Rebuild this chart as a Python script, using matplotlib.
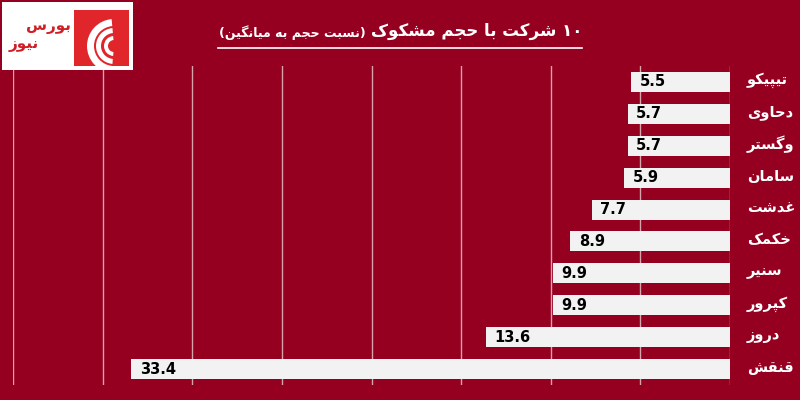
import re
import matplotlib
matplotlib.use("Agg")
import matplotlib.pyplot as plt
from matplotlib.patches import Rectangle, Wedge

# data
companies = ["تیپیکو", "دحاوی", "وگستر", "سامان", "غدشت",
             "خکمک", "سنیر", "کپرور", "دروز", "قنقش"]
ratios = [5.5, 5.7, 5.7, 5.9, 7.7, 8.9, 9.9, 9.9, 13.6, 33.4]
title_main = "۱۰ شرکت با حجم مشکوک"
title_sub = "(نسبت حجم به میانگین)"
logo_words = ["بورس", "نیوز"]

bg_color = "#950020"
bar_color = "#F2F2F2"
grid_color = "#D9A3AC"
logo_red = "#E0252B"

# minimal Persian shaping (matplotlib has no complex text layout)
FORMS = {
    'ا': ('\uFE8D', '\uFE8E', None, None),
    'ب': ('\uFE8F', '\uFE90', '\uFE91', '\uFE92'),
    'پ': ('\uFB56', '\uFB57', '\uFB58', '\uFB59'),
    'ت': ('\uFE95', '\uFE96', '\uFE97', '\uFE98'),
    'ج': ('\uFE9D', '\uFE9E', '\uFE9F', '\uFEA0'),
    'ح': ('\uFEA1', '\uFEA2', '\uFEA3', '\uFEA4'),
    'خ': ('\uFEA5', '\uFEA6', '\uFEA7', '\uFEA8'),
    'د': ('\uFEA9', '\uFEAA', None, None),
    'ر': ('\uFEAD', '\uFEAE', None, None),
    'ز': ('\uFEAF', '\uFEB0', None, None),
    'س': ('\uFEB1', '\uFEB2', '\uFEB3', '\uFEB4'),
    'ش': ('\uFEB5', '\uFEB6', '\uFEB7', '\uFEB8'),
    'غ': ('\uFECD', '\uFECE', '\uFECF', '\uFED0'),
    'ق': ('\uFED5', '\uFED6', '\uFED7', '\uFED8'),
    'ک': ('\uFB8E', '\uFB8F', '\uFB90', '\uFB91'),
    'گ': ('\uFB92', '\uFB93', '\uFB94', '\uFB95'),
    'م': ('\uFEE1', '\uFEE2', '\uFEE3', '\uFEE4'),
    'ن': ('\uFEE5', '\uFEE6', '\uFEE7', '\uFEE8'),
    'ه': ('\uFEE9', '\uFEEA', '\uFEEB', '\uFEEC'),
    'و': ('\uFEED', '\uFEEE', None, None),
    'ی': ('\uFBFC', '\uFBFD', '\uFBFE', '\uFBFF'),
}


def fa(s):
    out = []
    for i, c in enumerate(s):
        if c not in FORMS:
            out.append(c)
            continue
        prev = s[i - 1] if i > 0 else None
        nxt = s[i + 1] if i + 1 < len(s) else None
        jp = prev in FORMS and FORMS[prev][2] is not None
        jn = nxt in FORMS and FORMS[c][2] is not None
        iso, fin, ini, med = FORMS[c]
        if jp and jn:
            out.append(med)
        elif jp:
            out.append(fin)
        elif jn:
            out.append(ini)
        else:
            out.append(iso)
    vis = ''.join(out)[::-1]
    vis = vis.translate(str.maketrans("()", ")("))
    vis = re.sub(r'[0-9\u06F0-\u06F9.]+', lambda m: m.group(0)[::-1], vis)
    return vis


def px(x, y):
    return x / 800, 1 - y / 400


fig = plt.figure(figsize=(8, 4), dpi=100, facecolor=bg_color)

# plot area in pixels: x 13..730, y 66..385
ax = fig.add_axes([13 / 800, 15 / 400, 717 / 800, 319 / 400])
ax.set_facecolor(bg_color)
ypos = list(range(len(companies)))
ax.barh(ypos, ratios, height=0.63, color=bar_color, zorder=3)
ax.set_xlim(40, 0)
ax.set_ylim(len(companies) - 0.5, -0.5)
ax.set_xticks(range(0, 45, 5))
ax.grid(axis='x', color=grid_color, linewidth=1, zorder=1)
ax.tick_params(length=0, labelbottom=False, labelleft=False)
for s in ax.spines.values():
    s.set_visible(False)

for y, v, name in zip(ypos, ratios, companies):
    ax.annotate(f"{v}", (v, y), xytext=(6, 0), textcoords='offset points',
                ha='left', va='center', fontsize=10.5, fontweight='bold',
                color='black', zorder=4)
    ax.annotate(fa(name), (0, y), xytext=(12, 1), textcoords='offset points',
                ha='left', va='center', fontsize=10.5, fontweight='bold',
                color='white', annotation_clip=False)

# title: main part right, smaller note in brackets to its left
t_main = fig.text(*px(582, 31), fa(title_main), ha='right', va='center',
                  fontsize=12, fontweight='bold', color='white')
fig.canvas.draw()
bb = t_main.get_window_extent()
fig.text((bb.x0 - 5) / 800, 1 - 33 / 400, fa(title_sub), ha='right',
         va='center', fontsize=9, fontweight='bold', color='white')
fig.add_artist(plt.Line2D([218 / 800, 582 / 800], [1 - 47.5 / 400] * 2,
                          color='white', linewidth=1.2))

# logo: white box, red square with white arcs, red wordmark
box_ax = fig.add_axes([2 / 800, 1 - 70 / 400, 131 / 800, 68 / 400])
box_ax.set_xlim(0, 131)
box_ax.set_ylim(68, 0)
box_ax.set_facecolor('white')
box_ax.set_xticks([])
box_ax.set_yticks([])
for s in box_ax.spines.values():
    s.set_visible(False)
box_ax.add_patch(Rectangle((72, 8), 55, 56, facecolor=logo_red, edgecolor='none'))
for r, w in [(27, 7), (18, 5), (10, 4)]:
    box_ax.add_patch(Wedge((112, 44), r, 95, 265, width=w, facecolor='white'))
box_ax.text(46, 24, fa(logo_words[0]), ha='center', va='center',
            fontsize=11, fontweight='bold', color='#D01E25', zorder=5)
box_ax.text(22, 42, fa(logo_words[1]), ha='center', va='center',
            fontsize=11, fontweight='bold', color='#D01E25', zorder=5)

fig.savefig("out.png", dpi=100, facecolor=bg_color)
